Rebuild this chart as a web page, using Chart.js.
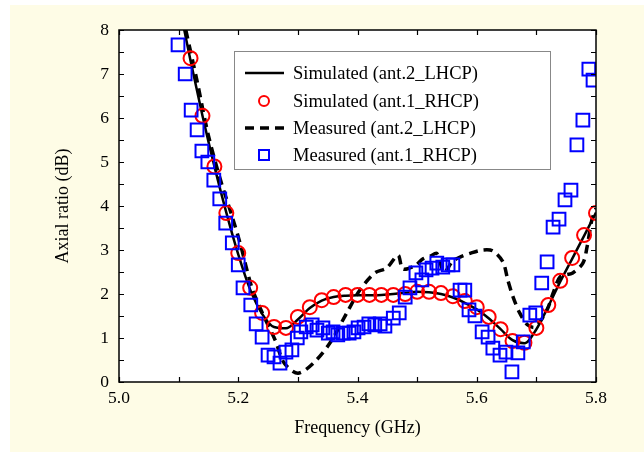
<!DOCTYPE html>
<html>
<head>
<meta charset="utf-8">
<script src="https://cdn.jsdelivr.net/npm/chart.js@4"></script>
<style>
  html, body { margin: 0; padding: 0; background: #ffffff; }
  #wrap { width: 644px; height: 452px; }
</style>
</head>
<body>
<div id="wrap"><canvas id="arChart" width="644" height="452"></canvas></div>
<script>
// tick labels
const xTicks = [5.0, 5.2, 5.4, 5.6, 5.8];
const yTicks = [0, 1, 2, 3, 4, 5, 6, 7, 8];

// Simulated (ant.2_LHCP) - solid line
const simLhcpFreq = [5.105, 5.12, 5.14, 5.16, 5.18, 5.20, 5.22, 5.24, 5.26, 5.28, 5.30, 5.32, 5.34, 5.36, 5.38, 5.40, 5.42, 5.44, 5.46, 5.48, 5.50, 5.52, 5.54, 5.56, 5.58, 5.60, 5.62, 5.64, 5.66, 5.68, 5.70, 5.72, 5.74, 5.76, 5.78, 5.80];
const simLhcpAR = [8.3, 7.3, 6.05, 4.9, 3.85, 2.9, 2.1, 1.55, 1.25, 1.22, 1.42, 1.68, 1.85, 1.93, 1.96, 1.97, 1.97, 1.98, 2.0, 2.03, 2.05, 2.04, 2.0, 1.92, 1.8, 1.65, 1.45, 1.2, 0.95, 0.88, 1.2, 1.72, 2.28, 2.8, 3.32, 3.85];

// Simulated (ant.1_RHCP) - red circles
const simRhcpFreq = [5.12, 5.14, 5.16, 5.18, 5.20, 5.22, 5.24, 5.26, 5.28, 5.30, 5.32, 5.34, 5.36, 5.38, 5.40, 5.42, 5.44, 5.46, 5.48, 5.50, 5.52, 5.54, 5.56, 5.58, 5.60, 5.62, 5.64, 5.66, 5.68, 5.70, 5.72, 5.74, 5.76, 5.78, 5.80];
const simRhcpAR = [7.36, 6.05, 4.9, 3.84, 2.93, 2.14, 1.57, 1.25, 1.23, 1.48, 1.7, 1.86, 1.93, 1.98, 1.98, 1.98, 1.98, 1.98, 2.0, 2.05, 2.05, 2.02, 1.95, 1.84, 1.7, 1.48, 1.2, 0.93, 0.89, 1.23, 1.75, 2.3, 2.82, 3.34, 3.84];

// Measured (ant.2_LHCP) - dashed line
const measLhcpFreq = [5.112, 5.13, 5.15, 5.17, 5.19, 5.203, 5.223, 5.242, 5.262, 5.277, 5.30, 5.326, 5.354, 5.382, 5.404, 5.429, 5.449, 5.468, 5.476, 5.496, 5.51, 5.522, 5.533, 5.545, 5.56, 5.572, 5.59, 5.61, 5.627, 5.644, 5.652, 5.661, 5.672, 5.685, 5.698, 5.718, 5.728, 5.74, 5.761, 5.778, 5.785, 5.793, 5.80];
const measLhcpAR = [8.0, 6.9, 5.6, 4.6, 3.75, 3.16, 2.14, 1.52, 0.95, 0.43, 0.2, 0.43, 0.89, 1.57, 2.09, 2.48, 2.59, 2.88, 2.57, 2.64, 2.8, 2.86, 2.92, 2.5, 2.75, 2.84, 2.93, 3.0, 2.98, 2.73, 2.32, 1.93, 1.57, 1.3, 1.25, 1.64, 2.02, 2.39, 2.48, 2.7, 3.07, 3.68, 3.95];

// Measured (ant.1_RHCP) - blue squares
const measRhcpFreq = [5.099, 5.111, 5.121, 5.131, 5.139, 5.149, 5.159, 5.169, 5.179, 5.190, 5.200, 5.208, 5.221, 5.230, 5.240, 5.250, 5.260, 5.270, 5.280, 5.290, 5.299, 5.305, 5.314, 5.324, 5.332, 5.342, 5.351, 5.359, 5.367, 5.376, 5.386, 5.394, 5.401, 5.411, 5.419, 5.429, 5.438, 5.446, 5.460, 5.470, 5.480, 5.488, 5.498, 5.508, 5.515, 5.525, 5.533, 5.543, 5.552, 5.560, 5.572, 5.580, 5.587, 5.597, 5.609, 5.619, 5.627, 5.639, 5.649, 5.659, 5.669, 5.678, 5.689, 5.699, 5.709, 5.718, 5.728, 5.738, 5.748, 5.758, 5.768, 5.778, 5.788, 5.795];
const measRhcpAR = [7.66, 7.0, 6.18, 5.73, 5.25, 5.0, 4.59, 4.16, 3.61, 3.16, 2.66, 2.14, 1.75, 1.32, 1.02, 0.61, 0.57, 0.43, 0.68, 0.73, 1.0, 1.14, 1.25, 1.3, 1.18, 1.23, 1.11, 1.14, 1.07, 1.11, 1.11, 1.14, 1.23, 1.25, 1.32, 1.3, 1.32, 1.27, 1.45, 1.57, 1.93, 2.14, 2.48, 2.32, 2.55, 2.59, 2.7, 2.61, 2.66, 2.66, 2.09, 2.09, 1.64, 1.5, 1.14, 1.02, 0.77, 0.61, 0.68, 0.23, 0.66, 0.91, 1.52, 1.57, 2.25, 2.73, 3.52, 3.7, 4.14, 4.36, 5.39, 5.95, 7.11, 6.86];

const toPoints = (xs, ys) => xs.map((x, i) => ({ x: x, y: ys[i] }));

const serif = "'Liberation Serif', 'DejaVu Serif', serif";

// page background + white plot area
const backgroundPlugin = {
  id: "backgroundPlugin",
  beforeDraw: (chart) => {
    const { ctx, chartArea } = chart;
    ctx.save();
    ctx.fillStyle = "#fefce6";
    ctx.fillRect(10, 5, chart.width - 10, chart.height - 5);
    ctx.fillStyle = "#ffffff";
    ctx.fillRect(chartArea.left, chartArea.top, chartArea.right - chartArea.left, chartArea.bottom - chartArea.top);
    ctx.restore();
  },
};

// frame, inward ticks, boxed legend
const framePlugin = {
  id: "framePlugin",
  afterDraw: (chart) => {
    const { ctx, chartArea } = chart;
    const xs = chart.scales.x;
    const ys = chart.scales.y;
    const { left, right, top, bottom } = chartArea;
    ctx.save();
    ctx.strokeStyle = "#000000";
    ctx.lineWidth = 1.5;
    ctx.strokeRect(left, top, right - left, bottom - top);

    ctx.lineWidth = 1.2;
    const tickLen = 5;
    ctx.beginPath();
    for (let i = 0; i < yTicks.length; i++) {
      const vals = [yTicks[i]];
      if (i < yTicks.length - 1) vals.push((yTicks[i] + yTicks[i + 1]) / 2);
      vals.forEach((v) => {
        const py = Math.round(ys.getPixelForValue(v)) + 0.5;
        ctx.moveTo(left, py);
        ctx.lineTo(left + tickLen, py);
        ctx.moveTo(right, py);
        ctx.lineTo(right - tickLen, py);
      });
    }
    for (let i = 0; i < xTicks.length; i++) {
      const vals = [xTicks[i]];
      if (i < xTicks.length - 1) vals.push((xTicks[i] + xTicks[i + 1]) / 2);
      vals.forEach((v) => {
        const px = Math.round(xs.getPixelForValue(v)) + 0.5;
        ctx.moveTo(px, bottom);
        ctx.lineTo(px, bottom - tickLen);
        ctx.moveTo(px, top);
        ctx.lineTo(px, top + tickLen);
      });
    }
    ctx.stroke();

    // legend
    ctx.fillStyle = "#ffffff";
    ctx.fillRect(234, 51, 316, 118);
    ctx.strokeStyle = "#888888";
    ctx.lineWidth = 1;
    ctx.strokeRect(234.5, 51.5, 316, 118);

    const rowsY = [73, 101, 128, 155];
    ctx.font = "18.5px " + serif;
    ctx.textBaseline = "middle";
    ctx.textAlign = "left";
    chart.data.datasets.forEach((ds, i) => {
      const y = rowsY[i];
      ctx.save();
      if (ds.showLine) {
        ctx.strokeStyle = ds.borderColor;
        ctx.lineWidth = ds.borderWidth;
        ctx.setLineDash(ds.borderDash || []);
        ctx.beginPath();
        ctx.moveTo(245, y);
        ctx.lineTo(284, y);
        ctx.stroke();
      } else {
        ctx.strokeStyle = ds.pointBorderColor;
        ctx.lineWidth = 2;
        ctx.beginPath();
        if (ds.pointStyle === "circle") {
          ctx.arc(264, y, 5, 0, Math.PI * 2);
        } else {
          ctx.rect(259, y - 5, 10, 10);
        }
        ctx.stroke();
      }
      ctx.restore();
      ctx.fillStyle = "#000000";
      ctx.fillText(ds.label, 293, y + 1);
    });
    ctx.restore();
  },
};

const ctx = document.getElementById("arChart").getContext("2d");

new Chart(ctx, {
  type: "scatter",
  data: {
    datasets: [
      {
        label: "Simulated (ant.2_LHCP)",
        data: toPoints(simLhcpFreq, simLhcpAR),
        showLine: true,
        borderColor: "#000000",
        borderWidth: 2.5,
        pointRadius: 0,
        cubicInterpolationMode: "monotone",
        order: 3,
      },
      {
        label: "Simulated (ant.1_RHCP)",
        data: toPoints(simRhcpFreq, simRhcpAR),
        showLine: false,
        pointStyle: "circle",
        pointRadius: 7,
        pointBorderWidth: 2,
        pointBorderColor: "#ff0000",
        pointBackgroundColor: "rgba(0,0,0,0)",
        order: 1,
      },
      {
        label: "Measured (ant.2_LHCP)",
        data: toPoints(measLhcpFreq, measLhcpAR),
        showLine: true,
        borderColor: "#000000",
        borderWidth: 3.5,
        borderDash: [9, 6],
        pointRadius: 0,
        tension: 0.3,
        order: 2,
      },
      {
        label: "Measured (ant.1_RHCP)",
        data: toPoints(measRhcpFreq, measRhcpAR),
        showLine: false,
        pointStyle: "rect",
        pointRadius: 9,
        pointBorderWidth: 2,
        pointBorderColor: "#0000ff",
        pointBackgroundColor: "rgba(0,0,0,0)",
        order: 0,
      },
    ],
  },
  options: {
    responsive: false,
    animation: false,
    layout: { padding: { left: 0, top: 30, right: 48, bottom: 0 } },
    plugins: {
      legend: { display: false },
      tooltip: { enabled: false },
    },
    scales: {
      x: {
        type: "linear",
        min: 5.0,
        max: 5.8,
        afterFit: (scale) => { scale.height = 70; },
        afterBuildTicks: (scale) => { scale.ticks = xTicks.map((v) => ({ value: v })); },
        grid: { display: false, drawTicks: false },
        border: { display: false },
        ticks: {
          padding: 6,
          color: "#000000",
          font: { family: serif, size: 17.5 },
          callback: (v) => Number(v).toFixed(1),
        },
        title: {
          display: true,
          text: "Frequency (GHz)",
          color: "#000000",
          font: { family: serif, size: 18 },
          padding: { bottom: 13 },
        },
      },
      y: {
        type: "linear",
        min: 0,
        max: 8,
        afterFit: (scale) => { scale.width = 119; },
        afterBuildTicks: (scale) => { scale.ticks = yTicks.map((v) => ({ value: v })); },
        grid: { display: false, drawTicks: false },
        border: { display: false },
        ticks: {
          padding: 10,
          color: "#000000",
          font: { family: serif, size: 17.5 },
        },
        title: {
          display: true,
          text: "Axial ratio (dB)",
          color: "#000000",
          font: { family: serif, size: 18 },
          padding: { top: 52 },
        },
      },
    },
  },
  plugins: [backgroundPlugin, framePlugin],
});
</script>
</body>
</html>
